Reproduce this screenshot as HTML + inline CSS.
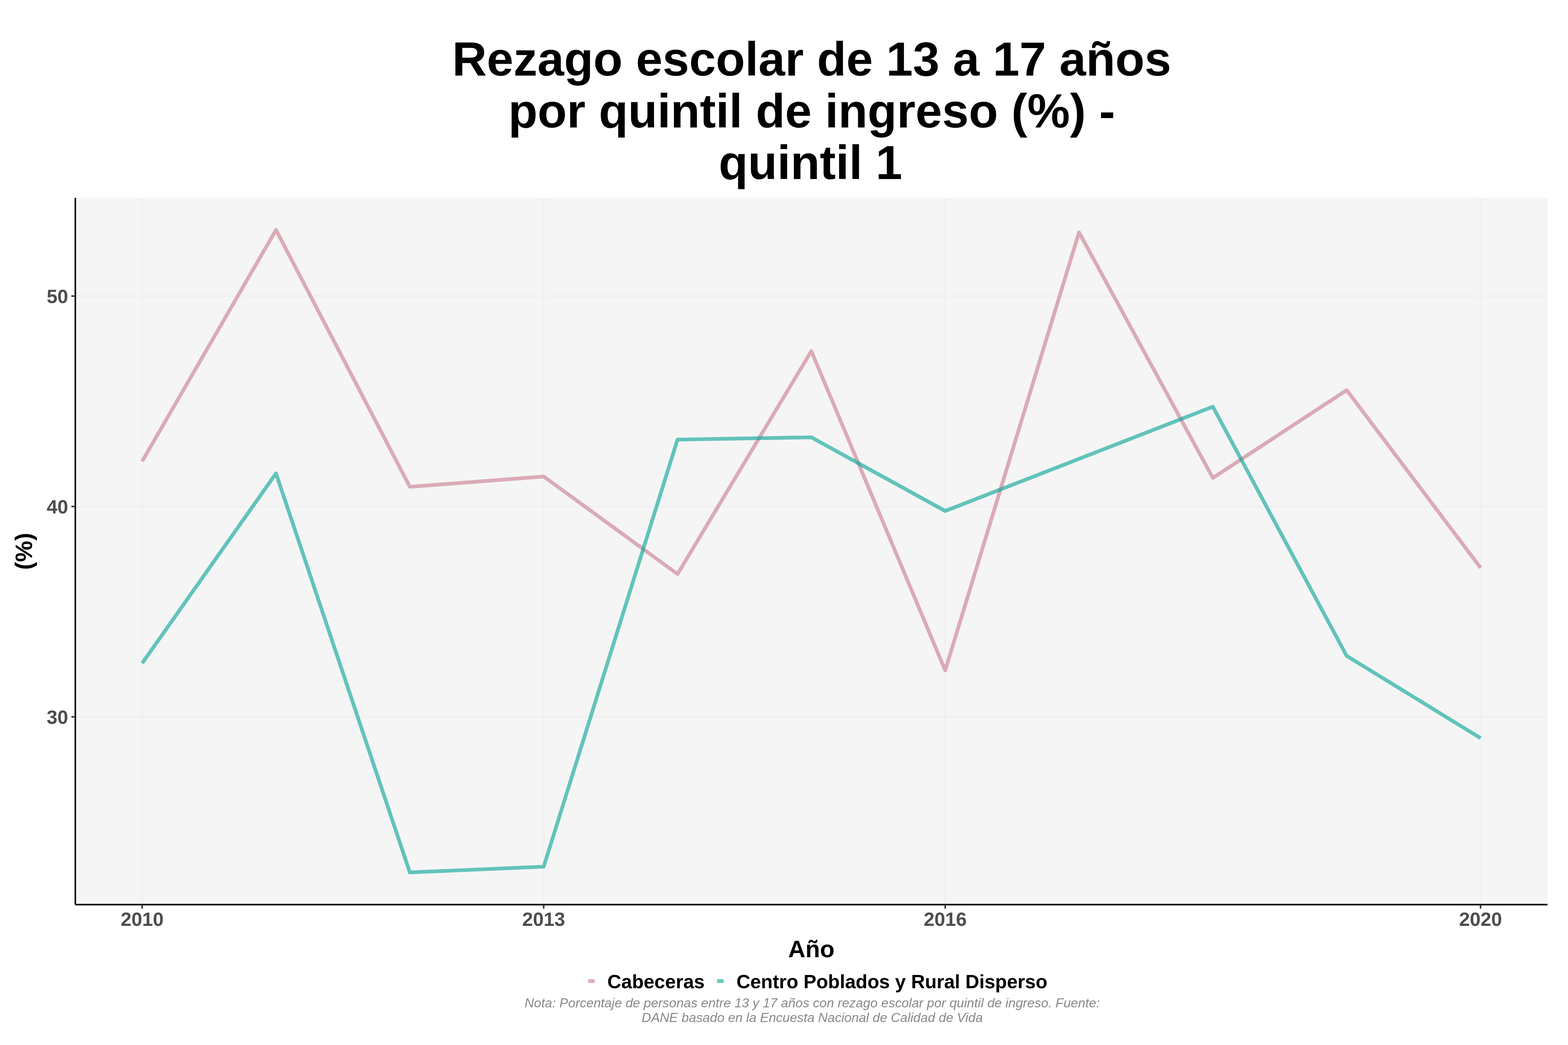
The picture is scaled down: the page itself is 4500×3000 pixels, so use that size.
<!DOCTYPE html>
<html><head><meta charset="utf-8"><title>Rezago escolar de 13 a 17 años por quintil de ingreso</title>
<style>
html,body{margin:0;padding:0;background:#fff;}
body{width:4500px;height:3000px;overflow:hidden;}
svg{display:block;}
text{font-family:'Liberation Sans', Arial, Helvetica, sans-serif;}
</style></head><body>
<svg width="4500" height="3000" viewBox="0 0 4500 3000">
<rect x="0" y="0" width="4500" height="3000" fill="#fff"/>
<g font-weight="bold" font-size="137.5" fill="#000" text-anchor="middle">
<text x="2329.5" y="217">Rezago escolar de 13 a 17 años</text>
<text x="2329.5" y="366">por quintil de ingreso (%) -</text>
<text x="2326" y="514">quintil 1</text>
</g>
<rect x="216.2" y="568" width="4224.8" height="2029" fill="#F5F5F5"/>
<g stroke="#F0F0F0" stroke-width="4.44" fill="none">
<line x1="216.2" y1="850" x2="4441" y2="850"/>
<line x1="216.2" y1="1454" x2="4441" y2="1454"/>
<line x1="216.2" y1="2058" x2="4441" y2="2058"/>
<line x1="408.0" y1="568" x2="408.0" y2="2597"/>
<line x1="1560.3" y1="568" x2="1560.3" y2="2597"/>
<line x1="2712.6" y1="568" x2="2712.6" y2="2597"/>
<line x1="4249.0" y1="568" x2="4249.0" y2="2597"/>
</g>
<g fill="none" stroke-width="10.67" stroke-linejoin="round" stroke-linecap="butt">
<polyline points="408.0,1324.3 792.1,660.0 1176.2,1397.5 1560.3,1368.0 1944.4,1648.0 2328.5,1008.0 2712.6,1924.5 3096.7,667.0 3480.8,1372.0 3864.9,1120.0 4249.0,1630.0" stroke="#C87A8C" stroke-opacity="0.6"/>
<polyline points="408.0,1904.0 792.1,1359.0 1176.2,2504.5 1560.3,2488.0 1944.4,1262.0 2328.5,1255.5 2712.6,1467.0 3480.8,1167.5 3864.9,1883.0 4249.0,2119.0" stroke="#00A294" stroke-opacity="0.6"/>
</g>
<g stroke="#000" stroke-width="4.44" fill="none">
<line x1="216.2" y1="568" x2="216.2" y2="2597"/>
<line x1="216.2" y1="2597" x2="4441" y2="2597"/>
</g>
<g stroke="#333" stroke-width="4.44" fill="none">
<line x1="204.7" y1="850" x2="216.2" y2="850"/>
<line x1="204.7" y1="1454" x2="216.2" y2="1454"/>
<line x1="204.7" y1="2058" x2="216.2" y2="2058"/>
<line x1="408.0" y1="2597" x2="408.0" y2="2608.5"/>
<line x1="1560.3" y1="2597" x2="1560.3" y2="2608.5"/>
<line x1="2712.6" y1="2597" x2="2712.6" y2="2608.5"/>
<line x1="4249.0" y1="2597" x2="4249.0" y2="2608.5"/>
</g>
<g font-weight="bold" font-size="55.4" fill="#4D4D4D" text-anchor="end">
<text x="195.7" y="870">50</text>
<text x="195.7" y="1474">40</text>
<text x="195.7" y="2078">30</text>
</g>
<g font-weight="bold" font-size="55.4" fill="#4D4D4D" text-anchor="middle">
<text x="408.0" y="2657.5">2010</text>
<text x="1560.3" y="2657.5">2013</text>
<text x="2712.6" y="2657.5">2016</text>
<text x="4249.0" y="2657.5">2020</text>
</g>
<g font-weight="bold" font-size="68.4" fill="#000" text-anchor="middle">
<text x="2328.5" y="2748">Año</text>
<text transform="translate(92,1582.75) rotate(-90)" x="0" y="0">(%)</text>
</g>
<rect x="1688" y="2811.1" width="18.7" height="10.7" fill="#C87A8C" fill-opacity="0.6"/>
<rect x="2058" y="2811.1" width="18.7" height="10.7" fill="#00A294" fill-opacity="0.6"/>
<g font-weight="bold" font-size="55.2" fill="#000">
<text x="1743.1" y="2837">Cabeceras</text>
<text x="2113.5" y="2837" textLength="892.5" lengthAdjust="spacing">Centro Poblados y Rural Disperso</text>
</g>
<g font-style="italic" font-size="37.5" fill="#888888" text-anchor="middle">
<text x="2331" y="2892.3">Nota: Porcentaje de personas entre 13 y 17 años con rezago escolar por quintil de ingreso. Fuente:</text>
<text x="2331" y="2933.8">DANE basado en la Encuesta Nacional de Calidad de Vida</text>
</g>
</svg>
</body></html>
